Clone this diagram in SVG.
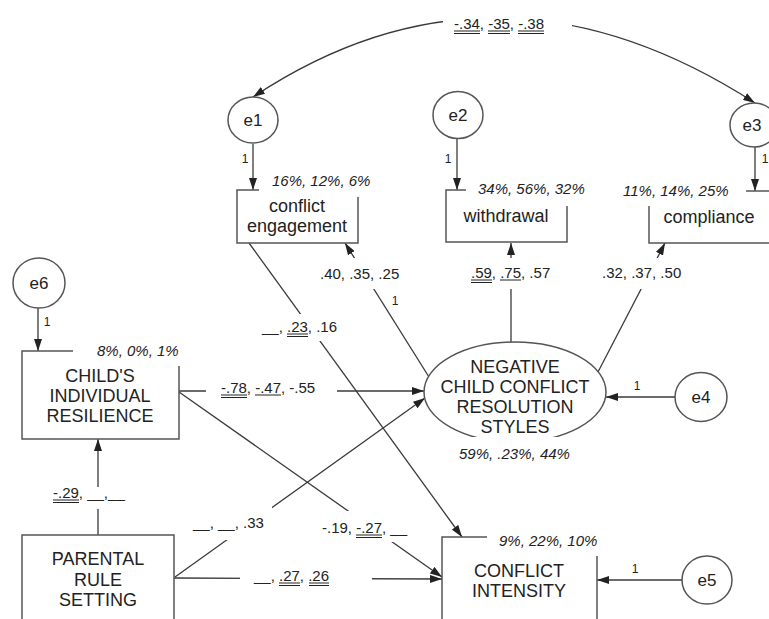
<svg xmlns="http://www.w3.org/2000/svg" width="769" height="619" viewBox="0 0 769 619">
<style>
.ln{fill:none;stroke:#3a3a3a;stroke-width:1.3}
.arr{marker-end:url(#ah)}
.box{fill:#fff;stroke:#555;stroke-width:1.5}
.nt{font-family:"Liberation Sans",Arial,sans-serif;font-size:18px;fill:#222;text-anchor:middle}
.et{font-family:"Liberation Sans",Arial,sans-serif;font-size:17px;fill:#222;text-anchor:middle}
.lb{font-family:"Liberation Sans",Arial,sans-serif;font-size:15px;fill:#222}
.pc{font-family:"Liberation Sans",Arial,sans-serif;font-size:15px;font-style:italic;fill:#222}
.one{font-family:"Liberation Sans",Arial,sans-serif;font-size:12px;fill:#222;text-anchor:middle}
.bg{fill:#fff;stroke:none}
.ul{stroke:#222;stroke-width:1}
</style>
<defs>
<marker id="ah" markerUnits="userSpaceOnUse" markerWidth="12" markerHeight="8" refX="12" refY="4" orient="auto-start-reverse">
<path d="M0,0 L12,4 L0,8 z" fill="#222"/>
</marker>
</defs>
<rect width="769" height="619" fill="#fff"/>

<g id="connectors">
<path class="ln" d="M 253 97 Q 495.5 -64 755 103" marker-start="url(#ah)" marker-end="url(#ah)"/>
<line class="ln arr" x1="253" y1="144" x2="253" y2="190"/>
<line class="ln arr" x1="457" y1="139" x2="457" y2="190"/>
<line class="ln arr" x1="755" y1="147" x2="755" y2="191"/>
<line class="ln arr" x1="38" y1="308" x2="38" y2="351"/>
<line class="ln arr" x1="676" y1="397" x2="606" y2="397"/>
<line class="ln arr" x1="682" y1="580" x2="597" y2="580"/>
<line class="ln arr" x1="429" y1="377" x2="345" y2="243"/>
<line class="ln arr" x1="511" y1="342" x2="511" y2="243"/>
<line class="ln arr" x1="598" y1="372" x2="665" y2="243"/>
<line class="ln arr" x1="179" y1="391" x2="424" y2="391"/>
<line class="ln arr" x1="175" y1="577" x2="425" y2="398"/>
<line class="ln arr" x1="179" y1="392" x2="442" y2="577"/>
<line class="ln arr" x1="249" y1="243" x2="462" y2="537"/>
<line class="ln arr" x1="98" y1="535" x2="98" y2="439"/>
<line class="ln arr" x1="174" y1="578" x2="442" y2="579"/>
</g>

<g id="connector-labels">
<rect class="bg" x="443" y="8" width="129" height="30"/>
<text class="lb" x="454" y="29">-.34, -35, -.38</text>
<line class="ul" x1="454" y1="31" x2="480" y2="31"/><line class="ul" x1="454" y1="33.5" x2="480" y2="33.5"/>
<line class="ul" x1="488" y1="31" x2="510" y2="31"/><line class="ul" x1="488" y1="33.5" x2="510" y2="33.5"/>
<line class="ul" x1="518" y1="31" x2="544" y2="31"/><line class="ul" x1="518" y1="33.5" x2="544" y2="33.5"/>

<rect class="bg" x="316" y="258" width="88" height="31"/>
<text class="lb" x="320" y="279">.40, .35, .25</text>
<text class="one" x="395" y="305">1</text>

<rect class="bg" x="468" y="258" width="87" height="31"/>
<text class="lb" x="471" y="278">.59, .75, .57</text>
<line class="ul" x1="471" y1="280" x2="492" y2="280"/><line class="ul" x1="471" y1="282.5" x2="492" y2="282.5"/>
<line class="ul" x1="500" y1="280" x2="521" y2="280"/>

<rect class="bg" x="599" y="258" width="85" height="31"/>
<text class="lb" x="602" y="278">.32, .37, .50</text>

<rect class="bg" x="259" y="314" width="81" height="27"/>
<text class="lb" x="262" y="332">__, .23, .16</text>
<line class="ul" x1="287" y1="334" x2="308" y2="334"/><line class="ul" x1="287" y1="336.5" x2="308" y2="336.5"/>

<rect class="bg" x="206" y="380" width="131" height="18"/>
<text class="lb" x="221" y="393">-.78, -.47, -.55</text>
<line class="ul" x1="221" y1="395" x2="247" y2="395"/><line class="ul" x1="221" y1="397.5" x2="247" y2="397.5"/>
<line class="ul" x1="255" y1="395" x2="281" y2="395"/>

<rect class="bg" x="50" y="487" width="78" height="22"/>
<text class="lb" x="53" y="498">-.29, __,__</text>
<line class="ul" x1="53" y1="500" x2="79" y2="500"/><line class="ul" x1="53" y1="502.5" x2="79" y2="502.5"/>

<rect class="bg" x="190" y="506" width="82" height="34"/>
<text class="lb" x="193" y="528">__, __, .33</text>

<rect class="bg" x="320" y="511" width="102" height="31"/>
<text class="lb" x="322" y="533">-.19, -.27, __</text>
<line class="ul" x1="356" y1="535" x2="382" y2="535"/><line class="ul" x1="356" y1="537.5" x2="382" y2="537.5"/>

<rect class="bg" x="240" y="566" width="132" height="22"/>
<text class="lb" x="254" y="581">__, .27, .26</text>
<line class="ul" x1="279" y1="583" x2="300" y2="583"/><line class="ul" x1="279" y1="585.5" x2="300" y2="585.5"/>
<line class="ul" x1="309" y1="583" x2="329" y2="583"/><line class="ul" x1="309" y1="585.5" x2="329" y2="585.5"/>

<text class="one" x="245" y="163">1</text>
<text class="one" x="448" y="163">1</text>
<text class="one" x="765" y="163">1</text>
<text class="one" x="47" y="326">1</text>
<text class="one" x="637" y="390">1</text>
<text class="one" x="635" y="573">1</text>
</g>

<g id="e1"><ellipse class="box" cx="253" cy="120" rx="25" ry="23"/><text class="et" x="253" y="126">e1</text></g>
<g id="e2"><ellipse class="box" cx="458" cy="115" rx="25" ry="23.5"/><text class="et" x="458" y="121">e2</text></g>
<g id="e3"><ellipse class="box" cx="754" cy="125" rx="24" ry="22"/><text class="et" x="752" y="131">e3</text></g>
<g id="e4"><ellipse class="box" cx="701" cy="397" rx="26" ry="24.5"/><text class="et" x="701" y="403">e4</text></g>
<g id="e5"><ellipse class="box" cx="707" cy="580" rx="25" ry="24"/><text class="et" x="707" y="586">e5</text></g>
<g id="e6"><ellipse class="box" cx="39" cy="283" rx="26" ry="25"/><text class="et" x="39" y="289">e6</text></g>

<g id="conflict-engagement">
<rect class="box" x="237" y="190" width="121" height="53"/>
<rect class="bg" x="259" y="170" width="121" height="27"/>
<text class="pc" x="272" y="186">16%, 12%, 6%</text>
<text class="nt" x="297" y="212">conflict</text>
<text class="nt" x="297" y="232">engagement</text>
</g>

<g id="withdrawal">
<rect class="box" x="446" y="190" width="121" height="52"/>
<rect class="bg" x="466" y="176" width="114" height="30"/>
<text class="pc" x="478" y="194">34%, 56%, 32%</text>
<text class="nt" x="506" y="222">withdrawal</text>
</g>

<g id="compliance">
<rect class="box" x="649" y="191" width="125" height="52"/>
<rect class="bg" x="618" y="178" width="128" height="28"/>
<text class="pc" x="623" y="196">11%, 14%, 25%</text>
<text class="nt" x="709" y="223">compliance</text>
</g>

<g id="negative-styles">
<ellipse class="box" cx="515" cy="392" rx="91" ry="50"/>
<rect class="bg" x="452" y="437" width="128" height="26"/>
<text class="pc" x="459" y="459">59%, .23%, 44%</text>
<text class="nt" x="515" y="373">NEGATIVE</text>
<text class="nt" x="515" y="393">CHILD CONFLICT</text>
<text class="nt" x="515" y="413">RESOLUTION</text>
<text class="nt" x="515" y="433">STYLES</text>
</g>

<g id="childs-resilience">
<rect class="box" x="22" y="351" width="157" height="88"/>
<rect class="bg" x="73" y="338" width="122" height="28"/>
<text class="pc" x="97" y="356">8%, 0%, 1%</text>
<text class="nt" x="100" y="382">CHILD'S</text>
<text class="nt" x="100" y="402">INDIVIDUAL</text>
<text class="nt" x="100" y="422">RESILIENCE</text>
</g>

<g id="parental-rule-setting">
<rect class="box" x="22" y="535" width="152" height="100"/>
<text class="nt" x="98" y="565">PARENTAL</text>
<text class="nt" x="98" y="586">RULE</text>
<text class="nt" x="98" y="606">SETTING</text>
</g>

<g id="conflict-intensity">
<rect class="box" x="442" y="537" width="155" height="100"/>
<rect class="bg" x="487" y="528" width="125" height="28"/>
<text class="pc" x="499" y="546">9%, 22%, 10%</text>
<text class="nt" x="519" y="577">CONFLICT</text>
<text class="nt" x="519" y="597">INTENSITY</text>
</g>
</svg>
